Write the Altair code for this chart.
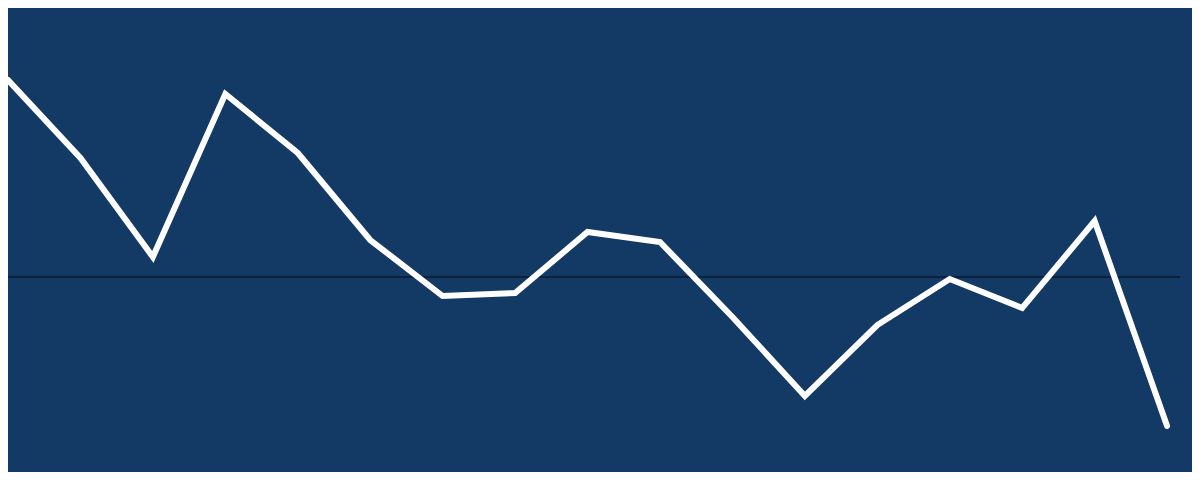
import altair as alt
import pandas as pd

idx = list(range(17))
values = [9.85, 5.95, 1.0, 9.15, 6.2, 1.85, -0.95, -0.8, 2.25, 1.75, -2.0, -5.95, -2.4, -0.1, -1.55, 2.8, -7.45]

df = pd.DataFrame({"i": idx, "v": values})

BG = "#133A65"
YDOM = [-9.75, 13.45]

line = alt.Chart(df).mark_line(color="white", strokeWidth=6, strokeCap="round", strokeJoin="miter").encode(
    x=alt.X("i:Q", axis=None, scale=alt.Scale(domain=[0, 16.344], nice=False, zero=False)),
    y=alt.Y("v:Q", axis=None, scale=alt.Scale(domain=YDOM, nice=False, zero=False)),
)

rule = alt.Chart(pd.DataFrame({"y": [0]})).mark_rule(color="#0b1a2c", strokeWidth=1.5).encode(
    y=alt.Y("y:Q", scale=alt.Scale(domain=YDOM, nice=False, zero=False), axis=None),
    x=alt.value(0),
    x2=alt.value(1172),
)

chart = alt.layer(rule, line).properties(
    width=1184, height=464, background=BG, padding=0,
    autosize=alt.AutoSizeParams(type="none"),
).configure_view(stroke=None)

chart.save("out.html", embed_options={"renderer": "svg", "actions": False})
